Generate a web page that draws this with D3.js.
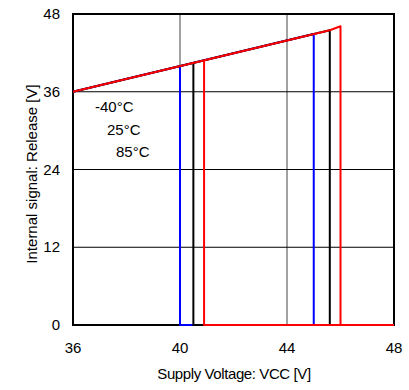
<!DOCTYPE html>
<html>
<head>
<meta charset="utf-8">
<script src="https://cdn.jsdelivr.net/npm/d3@7"></script>
<style>
  body { margin: 0; background: #fff; }
  text { font-family: "Liberation Sans", Arial, sans-serif; fill: #000; }
</style>
</head>
<body>
<svg width="409" height="390"></svg>
<script>
const svg = d3.select("svg");

// data
const temps = ["-40°C", "25°C", "85°C"];
const colors = ["#0000ff", "#000000", "#ff0000"];
const startV = [36, 36, 36];
const startY = [36, 36, 36];
const highV = [45.0, 45.6, 46.0];     // where release drops to 0 while rising
const highY = [44.9, 45.5, 46.1];
const kneeV = [45.0, 45.0, 45.6];     // small kink just before the drop
const kneeY = [44.9, 44.9, 45.5];
const lowV = [40.0, 40.5, 40.9];      // where release returns while falling
const lowY = [40.0, 40.4, 40.8];
const xTicks = [36, 40, 44, 48];
const yTicks = [0, 12, 24, 36, 48];

const x = d3.scaleLinear().domain([36, 48]).range([73, 394]);
const y = d3.scaleLinear().domain([0, 48]).range([325, 14]);

// grid
svg.append("g")
    .selectAll("line")
    .data([40, 44])
    .enter().append("line")
    .attr("x1", d => x(d)).attr("x2", d => x(d))
    .attr("y1", y(0)).attr("y2", y(48))
    .attr("stroke", "#444").attr("stroke-width", 1);

svg.append("g")
    .selectAll("line")
    .data([12, 24, 36])
    .enter().append("line")
    .attr("x1", x(36)).attr("x2", x(48))
    .attr("y1", d => y(d)).attr("y2", d => y(d))
    .attr("stroke", "#000").attr("stroke-width", 1);

// frame
svg.append("rect")
    .attr("x", x(36)).attr("y", y(48))
    .attr("width", x(48) - x(36)).attr("height", y(0) - y(48))
    .attr("fill", "none").attr("stroke", "#000").attr("stroke-width", 2);

// tick labels
svg.append("g")
    .selectAll("text")
    .data(yTicks)
    .enter().append("text")
    .attr("x", 60).attr("y", d => y(d) + 5)
    .attr("text-anchor", "end")
    .style("font-size", "15px")
    .text(d => d);

svg.append("g")
    .selectAll("text")
    .data(xTicks)
    .enter().append("text")
    .attr("x", d => x(d)).attr("y", 353)
    .attr("text-anchor", "middle")
    .style("font-size", "15px")
    .text(d => d);

// axis titles
svg.append("text")
    .attr("x", 234).attr("y", 379)
    .attr("text-anchor", "middle")
    .style("font-size", "15px")
    .style("letter-spacing", "-0.4px")
    .text("Supply Voltage: VCC [V]");

svg.append("text")
    .attr("transform", "translate(37,174) rotate(-90)")
    .attr("text-anchor", "middle")
    .style("font-size", "15px")
    .text("Internal signal: Release [V]");

// curves
const line = d3.line().x(d => x(d[0])).y(d => y(d[1]));

temps.forEach((t, i) => {
  const rise = [[startV[i], startY[i]], [kneeV[i], kneeY[i]], [highV[i], highY[i]], [highV[i], 0], [48, 0]];
  const fall = [[lowV[i], lowY[i]], [lowV[i], 0], [highV[i], 0]];
  [fall, rise].forEach(pts => {
    svg.append("path")
        .attr("d", line(pts))
        .attr("fill", "none")
        .attr("stroke", colors[i])
        .attr("stroke-width", 2)
        .attr("stroke-linejoin", "round");
  });
});

// temperature labels
const labelX = [95, 107, 116];
const labelY = [112, 135, 157];
svg.append("g")
    .selectAll("text")
    .data(temps)
    .enter().append("text")
    .attr("x", (d, i) => labelX[i]).attr("y", (d, i) => labelY[i])
    .style("font-size", "15px")
    .text(d => d);
</script>
</body>
</html>
